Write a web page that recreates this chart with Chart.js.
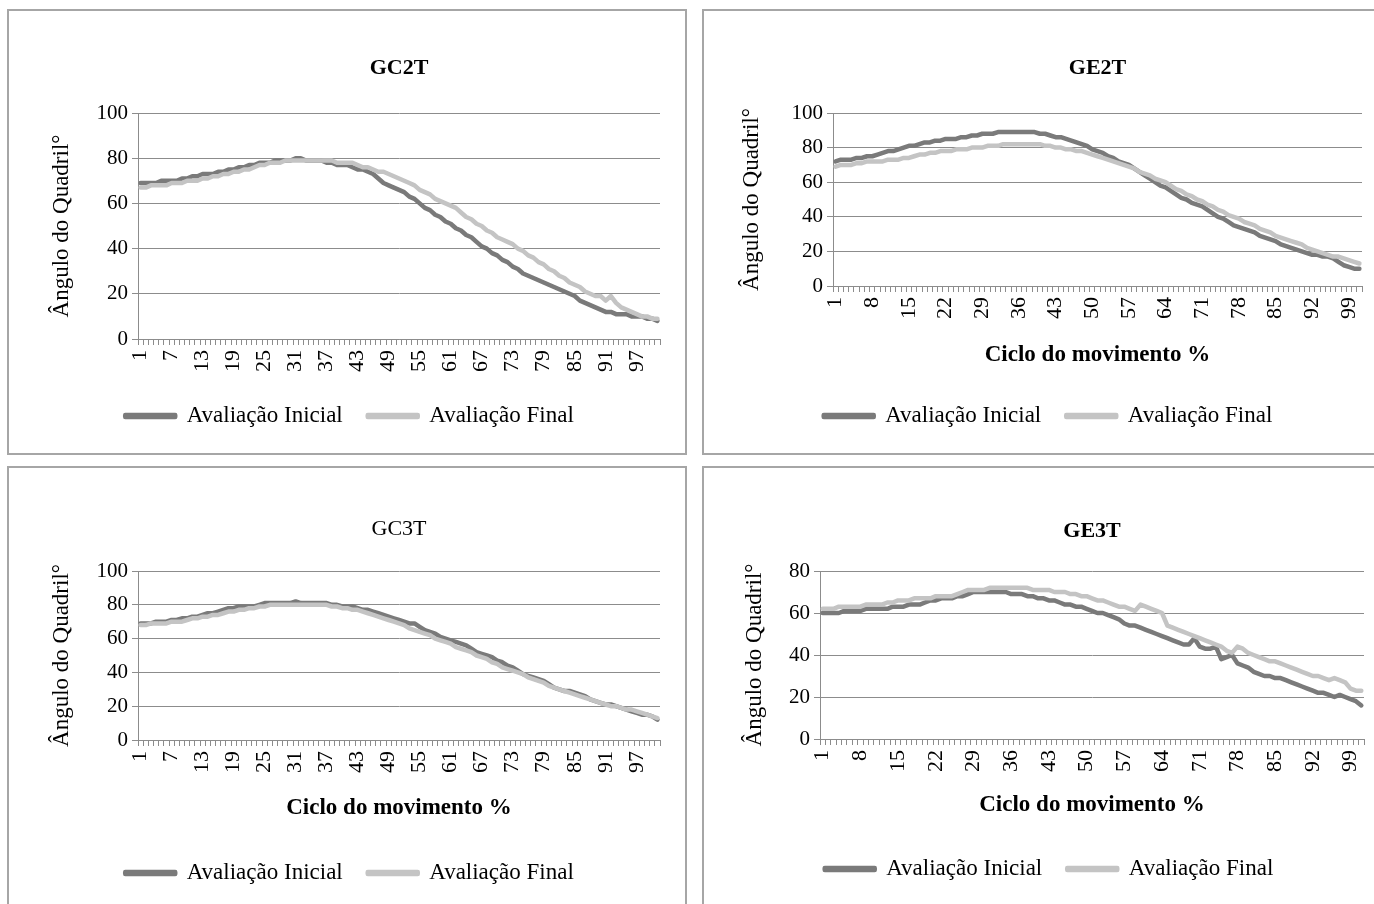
<!DOCTYPE html>
<html>
<head>
<meta charset="utf-8">
<script src="https://cdn.jsdelivr.net/npm/chart.js@4.4.1/dist/chart.umd.min.js"></script>
<style>
    body { margin: 0; background: #fff; width: 1374px; height: 904px; overflow: hidden; position: relative; }
    .panel { position: absolute; border: 2px solid #a6a6a6; width: 676px; height: 442px; background: #fff; }
    canvas { display: block; }
</style>
</head>
<body>
<div class="panel" style="left:7px; top:9px;"><canvas id="gc2t" width="676" height="442"></canvas></div>
<div class="panel" style="left:702px; top:9px;"><canvas id="ge2t" width="676" height="442"></canvas></div>
<div class="panel" style="left:7px; top:466px;"><canvas id="gc3t" width="676" height="442"></canvas></div>
<div class="panel" style="left:702px; top:466px;"><canvas id="ge3t" width="676" height="442"></canvas></div>
<script>
// ciclo do movimento 1..101
const ciclo = [];
for (let i = 1; i <= 101; i++) ciclo.push(i);

const seriesNames = ['Avaliação Inicial', 'Avaliação Final'];

const gc2Inicial = [
    69,69,69,69,70,70,70,70,71,71,
    72,72,73,73,73,74,74,75,75,76,
    76,77,77,78,78,78,79,79,79,79,
    80,80,79,79,79,79,78,78,77,77,
    77,76,75,75,74,73,71,69,68,67,
    66,65,63,62,60,58,57,55,54,52,
    51,49,48,46,45,43,41,40,38,37,
    35,34,32,31,29,28,27,26,25,24,
    23,22,21,20,19,17,16,15,14,13,
    12,12,11,11,11,10,10,10,9,9,
    8
];
const gc2Final = [
    67,67,68,68,68,68,69,69,69,70,
    70,70,71,71,72,72,73,73,74,74,
    75,75,76,77,77,78,78,78,79,79,
    79,79,79,79,79,79,79,79,78,78,
    78,78,77,76,76,75,74,74,73,72,
    71,70,69,68,66,65,64,62,61,60,
    59,58,56,54,53,51,50,48,47,45,
    44,43,42,40,39,37,36,34,33,31,
    30,28,27,25,24,23,21,20,19,19,
    17,19,16,14,13,12,11,10,10,9,
    9
];

const ge2Inicial = [
    72,73,73,73,74,74,75,75,76,77,
    78,78,79,80,81,81,82,83,83,84,
    84,85,85,85,86,86,87,87,88,88,
    88,89,89,89,89,89,89,89,89,88,
    88,87,86,86,85,84,83,82,81,79,
    78,77,75,74,72,71,70,68,66,64,
    62,60,58,57,55,53,51,50,48,47,
    46,44,42,40,39,37,35,34,33,32,
    31,29,28,27,26,24,23,22,21,20,
    19,18,18,17,17,16,14,12,11,10,
    10
];
const ge2Final = [
    69,70,70,70,71,71,72,72,72,72,
    73,73,73,74,74,75,76,76,77,77,
    78,78,78,79,79,79,80,80,80,81,
    81,81,82,82,82,82,82,82,82,82,
    81,81,80,80,79,79,78,78,77,76,
    75,74,73,72,71,70,69,68,66,65,
    64,62,61,60,58,56,55,53,52,50,
    49,47,46,44,43,41,40,39,37,36,
    35,33,32,31,29,28,27,26,25,24,
    22,21,20,19,18,17,17,16,15,14,
    13
];

const gc3Inicial = [
    69,69,69,70,70,70,71,71,72,72,
    73,73,74,75,75,76,77,78,78,79,
    79,79,79,80,81,81,81,81,81,81,
    82,81,81,81,81,81,81,80,80,79,
    79,79,78,77,77,76,75,74,73,72,
    71,70,69,69,67,65,64,63,61,60,
    59,58,57,56,54,52,51,50,49,47,
    46,44,43,41,39,38,37,36,35,33,
    31,30,29,29,28,27,26,24,23,22,
    21,21,20,19,18,17,16,15,15,14,
    12
];
const gc3Final = [
    68,68,69,69,69,69,70,70,70,71,
    72,72,73,73,74,74,75,76,76,77,
    77,78,78,79,79,80,80,80,80,80,
    80,80,80,80,80,80,80,79,79,78,
    78,77,77,76,75,74,73,72,71,70,
    69,68,66,65,64,63,62,60,59,58,
    57,55,54,53,52,50,49,48,46,45,
    43,42,41,40,39,37,36,35,34,32,
    31,30,29,28,27,26,25,24,23,22,
    21,20,20,19,18,18,17,16,15,14,
    13
];

const ge3Inicial = [
    60,60,60,60,61,61,61,61,62,62,
    62,62,62,63,63,63,64,64,64,65,
    66,66,67,67,67,68,68,69,70,70,
    70,70,70,70,70,69,69,69,68,68,
    67,67,66,66,65,64,64,63,63,62,
    61,60,60,59,58,57,55,54,54,53,
    52,51,50,49,48,47,46,45,45,48,
    44,43,43,44,38,39,40,36,35,34,
    32,31,30,30,29,29,28,27,26,25,
    24,23,22,22,21,20,21,20,19,18,
    16
];
const ge3Final = [
    62,62,62,63,63,63,63,63,64,64,
    64,64,65,65,66,66,66,67,67,67,
    67,68,68,68,68,69,70,71,71,71,
    71,72,72,72,72,72,72,72,72,71,
    71,71,71,70,70,70,69,69,68,68,
    67,66,66,65,64,63,63,62,61,64,
    63,62,61,60,54,53,52,51,50,49,
    48,47,46,45,44,42,41,44,43,41,
    40,39,38,37,37,36,35,34,33,32,
    31,30,30,29,28,29,28,27,24,23,
    23
];

const serif = "'Liberation Serif', 'Times New Roman', serif";
Chart.defaults.font.family = serif;
Chart.defaults.color = '#000';

function renderPanel(id, cfg) {
    const ctx = document.getElementById(id).getContext('2d');
    new Chart(ctx, {
        type: 'line',
        data: {
            labels: ciclo,
            datasets: [
                {
                    label: seriesNames[0],
                    data: cfg.inicial,
                    borderColor: '#7a7a7a',
                    backgroundColor: '#7a7a7a',
                    borderWidth: 4.5,
                    pointRadius: 0,
                    borderCapStyle: 'round',
                    borderJoinStyle: 'round',
                    order: 1
                },
                {
                    label: seriesNames[1],
                    data: cfg.final,
                    borderColor: '#c4c4c4',
                    backgroundColor: '#c4c4c4',
                    borderWidth: 4.5,
                    pointRadius: 0,
                    borderCapStyle: 'round',
                    borderJoinStyle: 'round',
                    order: 0
                }
            ]
        },
        options: {
            responsive: false,
            animation: false,
            layout: {
                padding: { left: 30, right: cfg.padRight, top: 0, bottom: cfg.padBottom }
            },
            plugins: {
                title: {
                    display: true,
                    text: cfg.title,
                    fullSize: false,
                    font: { size: 22, weight: cfg.titleBold ? 'bold' : 'normal' },
                    padding: { top: cfg.titleTop, bottom: cfg.titleBottom }
                },
                legend: {
                    display: true,
                    position: 'bottom',
                    labels: {
                        boxWidth: 50,
                        boxHeight: 2,
                        padding: 25,
                        font: { size: 23 },
                        color: '#000',
                        sort: (a, b) => a.datasetIndex - b.datasetIndex
                    }
                },
                tooltip: { enabled: false }
            },
            scales: {
                x: {
                    offset: true,
                    grid: { drawOnChartArea: false, offset: true, tickLength: 6, color: '#8c8c8c' },
                    border: { color: '#8c8c8c' },
                    ticks: {
                        autoSkip: false,
                        minRotation: 90,
                        maxRotation: 90,
                        padding: 5,
                        font: { size: 22 },
                        callback: function (value, index) {
                            return index % cfg.step === 0 ? ciclo[index] : '';
                        }
                    },
                    title: {
                        display: cfg.xTitle,
                        text: 'Ciclo do movimento %',
                        font: { size: 23, weight: 'bold' },
                        padding: { top: 0, bottom: cfg.xTitlePad }
                    },
                    afterFit: (scale) => {
                        scale.height = cfg.xHeight;
                        scale.paddingLeft = 0;
                        scale.paddingRight = 0;
                    }
                },
                y: {
                    min: 0,
                    max: cfg.yMax,
                    ticks: { stepSize: 20, padding: 4, font: { size: 21 } },
                    grid: { color: '#8c8c8c', tickLength: 6 },
                    border: { color: '#8c8c8c' },
                    title: {
                        display: true,
                        text: 'Ângulo do Quadril°',
                        font: { size: 23 },
                        padding: { top: cfg.yTitlePad, bottom: 0 }
                    },
                    afterFit: (scale) => { scale.width = cfg.yWidth; }
                }
            }
        }
    });
}

document.addEventListener('DOMContentLoaded', () => {
    renderPanel('gc2t', {
        title: 'GC2T', titleBold: true, titleTop: 43.8, titleBottom: 31.8,
        inicial: gc2Inicial, final: gc2Final, step: 6, yMax: 100,
        xTitle: false, xTitlePad: 0, xHeight: 40.5, yWidth: 99, yTitlePad: 9.2,
        padRight: 25, padBottom: 15.5
    });
    renderPanel('ge2t', {
        title: 'GE2T', titleBold: true, titleTop: 43.8, titleBottom: 31.8,
        inicial: ge2Inicial, final: ge2Final, step: 7, yMax: 100,
        xTitle: true, xTitlePad: 10.7, xHeight: 93.5, yWidth: 99, yTitlePad: 4.2,
        padRight: 18, padBottom: 15.5
    });
    renderPanel('gc3t', {
        title: 'GC3T', titleBold: false, titleTop: 47.8, titleBottom: 28.8,
        inicial: gc3Inicial, final: gc3Final, step: 6, yMax: 100,
        xTitle: true, xTitlePad: 14.7, xHeight: 96.5, yWidth: 99, yTitlePad: 9.2,
        padRight: 25, padBottom: 15.5
    });
    renderPanel('ge3t', {
        title: 'GE3T', titleBold: true, titleTop: 49.8, titleBottom: 26.8,
        inicial: ge3Inicial, final: ge3Final, step: 7, yMax: 80,
        xTitle: true, xTitlePad: 13.7, xHeight: 93.5, yWidth: 86, yTitlePad: 6.8,
        padRight: 16, padBottom: 19.5
    });
});
</script>
</body>
</html>
